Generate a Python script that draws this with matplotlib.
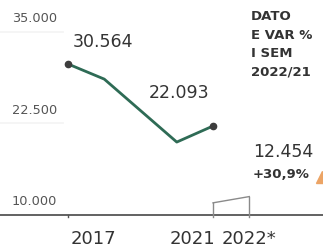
import matplotlib
matplotlib.use("Agg")
import matplotlib.pyplot as plt

years = [2017, 2018, 2019, 2020, 2021]
values = [30564, 28500, 24200, 19900, 22093]

half_years = [2021, 2022]
half_values = [11600, 12454]

yticks = [35000, 22500, 10000]
ytick_labels = ["35.000", "22.500", "10.000"]

xlabel_years = [2017, 2021, 2022]
xlabel_text = ["2017", "2021", "2022*"]

fig = plt.figure(figsize=(3.23, 2.52), dpi=100)
ax = fig.add_axes([0, 0, 1, 1])
ax.set_xlim(2015.124, 2024.034)
ax.set_ylim(4883, 39306)
ax.axis("off")

txt = "#333333"

# faint short gridlines under the y labels, axis line at 10.000
for v, lab in zip(yticks, ytick_labels):
    if v != 10000:
        ax.plot([2015.124, 2016.85], [v, v], color="#f3f3f3", lw=1.2)
    ax.annotate(lab, (0.037, v), xycoords=("axes fraction", "data"),
                xytext=(0, 13), textcoords="offset pixels",
                ha="left", va="center", fontsize=9.3, color="#555555")
ax.axhline(10000, color="#555555", lw=1.3)

# ticks
ax.plot([2017, 2017], [10000, 9700], color="#555555", lw=1)
for x, v in zip(half_years, half_values):
    ax.plot([x, x], [9700, v], color="#8a8a8a", lw=1)
ax.plot(half_years, half_values, color="#8a8a8a", lw=1)

# main line
ax.plot(years, values, color="#2e6b55", lw=2, solid_capstyle="round")
ax.plot([years[0], years[-1]], [values[0], values[-1]], "o",
        color="#3d3d3d", ms=4.5)

# value labels
ax.annotate("30.564", (years[0], values[0]), xytext=(35, 22),
            textcoords="offset pixels", ha="center", va="center",
            fontsize=12.5, color=txt)
ax.annotate("22.093", (years[-1], values[-1]), xytext=(-34, 33),
            textcoords="offset pixels", ha="center", va="center",
            fontsize=12.5, color=txt)
ax.annotate("12.454", (half_years[1], half_values[1]), xytext=(34, 45),
            textcoords="offset pixels", ha="center", va="center",
            fontsize=12.5, color=txt)
ax.annotate("+30,9%", (half_years[1], half_values[1]), xytext=(32, 22),
            textcoords="offset pixels", ha="center", va="center",
            fontsize=9.5, fontweight="bold", color=txt)
ax.plot([2024.0], [15100], marker="^", color="#eca465", ms=9, clip_on=False)

ax.text(0.777, 0.96, "DATO\nE VAR %\nI SEM\n2022/21", transform=ax.transAxes,
        ha="left", va="top", fontsize=9.5, fontweight="bold", color=txt,
        linespacing=1.55)

# x labels
ha_list = ["left", "right", "center"]
dx = [0.08, 0.05, 0.0]
for x, lab, ha, d in zip(xlabel_years, xlabel_text, ha_list, dx):
    ax.annotate(lab, (x + d, 10000), xytext=(0, -24), textcoords="offset pixels",
                ha=ha, va="center", fontsize=13, color=txt)

fig.savefig("out.png", dpi=100)
